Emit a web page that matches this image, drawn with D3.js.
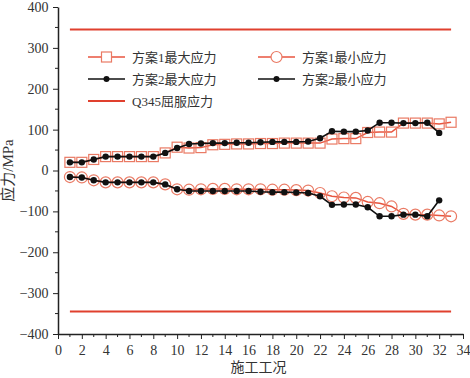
<!DOCTYPE html>
<html><head><meta charset="utf-8">
<script src="https://cdn.jsdelivr.net/npm/d3@7"></script>
<style>body{margin:0;background:#fff}svg{display:block}</style>
</head><body><svg id="c" width="470" height="378"></svg>
<script>
const cases1 = d3.range(1, 34);
const cases2 = d3.range(1, 33);
const max1 = [20,20,27,34,34,34,34,34,43,57,55,56,63,64,65,65,66,66,67,67,67,67,77,78,78,93,94,94,116,116,116,114,118];
const min1 = [-16,-17,-24,-29,-29,-29,-29,-29,-34,-46,-47,-46,-45,-45,-46,-46,-46,-47,-47,-48,-49,-55,-63,-66,-67,-77,-80,-88,-106,-108,-108,-110,-112];
const max2 = [20,20,27,34,34,34,34,34,43,55,65,66,67,67,68,68,69,70,70,70,71,79,96,95,95,98,117,117,116,116,117,92];
const min2 = [-16,-17,-24,-29,-29,-29,-29,-29,-34,-46,-50,-50,-50,-50,-50,-50,-52,-53,-53,-54,-55,-63,-84,-83,-83,-90,-112,-112,-108,-108,-112,-73];
const yieldStress = 345;
const yieldRange = [1, 33];
const xTicks = d3.range(0, 35, 2);
const yTicks = d3.range(-400, 401, 100);
const legendLabels = ["方案1最大应力","方案1最小应力","方案2最大应力","方案2最小应力","Q345屈服应力"];

const svg = d3.select("#c");
const x = d3.scaleLinear().domain([0, 34]).range([58, 463]);
const y = d3.scaleLinear().domain([-400, 400]).range([334, 7]);
const red = "#e8553f", redLight = "#ea7a64", black = "#111";
const serif = "'Liberation Serif','Times New Roman',serif";
const cjk = "'Liberation Serif','Noto Sans CJK SC',serif";

// yield lines
[yieldStress, -yieldStress].forEach(v => {
  svg.append("line").attr("x1", x(yieldRange[0])).attr("x2", x(yieldRange[1]))
    .attr("y1", y(v)).attr("y2", y(v)).attr("stroke", "#e0402e").attr("stroke-width", 2);
});

// axes
const gx = svg.append("g").attr("transform", `translate(0,${y(-400)})`)
  .call(d3.axisBottom(x).tickValues(xTicks).tickFormat(d3.format("d")).tickSize(5).tickSizeOuter(0));
gx.append("g").selectAll("line").data(d3.range(1, 34, 2)).join("line")
  .attr("x1", d => x(d)).attr("x2", d => x(d)).attr("y1", 0).attr("y2", 3).attr("stroke", "#222");
const gy = svg.append("g").attr("transform", `translate(${x(0)},0)`)
  .call(d3.axisLeft(y).tickValues(yTicks).tickSize(5).tickSizeOuter(0));
gy.append("g").selectAll("line").data(d3.range(-350, 400, 100)).join("line")
  .attr("y1", d => y(d)).attr("y2", d => y(d)).attr("x1", 0).attr("x2", -3).attr("stroke", "#222");
[gx, gy].forEach(g => {
  g.selectAll("path.domain").attr("stroke", "#222").attr("stroke-width", 1.5);
  g.selectAll(".tick line").attr("stroke", "#222");
  g.selectAll("text").attr("font-family", serif).attr("font-size", 14).attr("fill", "#333");
});
gx.selectAll("text").attr("dy", "0.9em");
gy.selectAll("text").attr("dx", "-0.1em");

// axis labels
svg.append("text").attr("x", x(17) - 2).attr("y", 372).attr("text-anchor", "middle")
  .attr("font-family", cjk).attr("font-size", 14).attr("fill", "#333").text("施工工况");
svg.append("text").attr("transform", `translate(13,${y(0)}) rotate(-90)`).attr("text-anchor", "middle")
  .attr("font-family", cjk).attr("font-size", 15).attr("fill", "#333").text("应力/MPa");

const line = d3.line().x(d => x(d[0])).y(d => y(d[1]));

// series 1
const s1max = cases1.map((c, i) => [c, max1[i]]);
const s1min = cases1.map((c, i) => [c, min1[i]]);
svg.append("path").datum(s1max).attr("d", line).attr("fill", "none").attr("stroke", red).attr("stroke-width", 1.5);
svg.append("path").datum(s1min).attr("d", line).attr("fill", "none").attr("stroke", red).attr("stroke-width", 1.5);
svg.append("g").selectAll("rect").data(s1max).join("rect")
  .attr("x", d => x(d[0]) - 5).attr("y", d => y(d[1]) - 5).attr("width", 10).attr("height", 10)
  .attr("fill", "none").attr("stroke", redLight).attr("stroke-width", 1.2);
svg.append("g").selectAll("circle").data(s1min).join("circle")
  .attr("cx", d => x(d[0])).attr("cy", d => y(d[1])).attr("r", 5.5)
  .attr("fill", "none").attr("stroke", redLight).attr("stroke-width", 1.2);

// series 2
const s2max = cases2.map((c, i) => [c, max2[i]]);
const s2min = cases2.map((c, i) => [c, min2[i]]);
[s2max, s2min].forEach(s => {
  svg.append("path").datum(s).attr("d", line).attr("fill", "none").attr("stroke", black).attr("stroke-width", 1.6);
  svg.append("g").selectAll("circle").data(s).join("circle")
    .attr("cx", d => x(d[0])).attr("cy", d => y(d[1])).attr("r", 3.2).attr("fill", black);
});

// legend
const leg = svg.append("g");
const items = [
  {label: legendLabels[0], col: 0, row: 0, color: red, marker: "square"},
  {label: legendLabels[1], col: 1, row: 0, color: red, marker: "circle"},
  {label: legendLabels[2], col: 0, row: 1, color: black, marker: "dot"},
  {label: legendLabels[3], col: 1, row: 1, color: black, marker: "dot"},
  {label: legendLabels[4], col: 0, row: 2, color: "#e0402e", marker: "none"}
];
items.forEach(it => {
  const x0 = it.col ? 258 : 88, yy = 57 + it.row * 22;
  const g = leg.append("g");
  g.append("line").attr("x1", x0).attr("x2", x0 + 37).attr("y1", yy).attr("y2", yy)
    .attr("stroke", it.color).attr("stroke-width", it.marker === "none" ? 2 : 1.6);
  const cx = x0 + 18.5;
  if (it.marker === "square") g.append("rect").attr("x", cx - 5).attr("y", yy - 5).attr("width", 10).attr("height", 10).attr("fill", "#fff").attr("stroke", redLight).attr("stroke-width", 1.2);
  if (it.marker === "circle") g.append("circle").attr("cx", cx).attr("cy", yy).attr("r", 5.5).attr("fill", "#fff").attr("stroke", redLight).attr("stroke-width", 1.2);
  if (it.marker === "dot") g.append("circle").attr("cx", cx).attr("cy", yy).attr("r", 3).attr("fill", black);
  g.append("text").attr("x", x0 + 44).attr("y", yy + 5).attr("font-family", cjk).attr("font-size", 13)
    .attr("fill", "#333").text(it.label);
});
</script></body></html>
